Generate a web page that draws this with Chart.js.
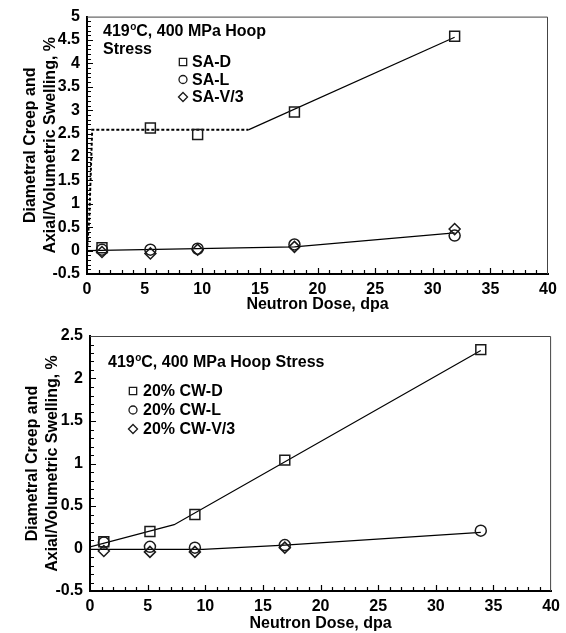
<!DOCTYPE html>
<html lang="en">
<head>
<meta charset="UTF-8" />
<title>Diametral creep and swelling vs neutron dose</title>
<script src="https://cdn.jsdelivr.net/npm/chart.js"></script>
<style>
  body { margin: 0; background: #fff; }
  .panel { position: absolute; left: 0; width: 566px; }
  #top { top: 0; height: 316px; }
  #bottom { top: 316px; height: 317px; }
</style>
</head>
<body>
<div class="panel" id="top"><canvas id="topChart"></canvas></div>
<div class="panel" id="bottom"><canvas id="bottomChart"></canvas></div>
<script>
// ---- top panel: solution annealed (SA) ----
const saDose = [1.3, 5.5, 9.6, 18, 31.9];
const saD = [0.06, 2.62, 2.48, 2.96, 4.58];
const saL = [0.02, 0.02, 0.04, 0.13, 0.32];
const saV3 = [-0.03, -0.06, 0.02, 0.08, 0.46];
// trend lines drawn on the figure
const saDDashX = [0, 0.2, 0.45, 14];
const saDDashY = [0, 0.7, 2.58, 2.58];
const saDFitX = [14, 31.9];
const saDFitY = [2.58, 4.56];
const saLFitX = [0, 18, 31.9];
const saLFitY = [0, 0.08, 0.38];
const saYTicks = [-0.5, 0, 0.5, 1, 1.5, 2, 2.5, 3, 3.5, 4, 4.5, 5];
const saYLabels = ['-0.5', '0', '0.5', '1', '1.5', '2', '2.5', '3', '3.5', '4', '4.5', '5'];

// ---- bottom panel: 20% cold worked (CW) ----
const cwDose = [1.2, 5.2, 9.1, 16.9, 33.9];
const cwD = [0.08, 0.2, 0.4, 1.04, 2.34];
const cwL = [0.07, 0.02, 0.01, 0.04, 0.21];
const cwV3Dose = [1.2, 5.2, 9.1, 16.9];
const cwV3 = [-0.03, -0.04, -0.04, 0.01];
const cwDFitX = [0, 7.3, 33.9];
const cwDFitY = [0.02, 0.28, 2.33];
const cwLFitX = [0, 9.8, 16.9, 33.9];
const cwLFitY = [-0.01, -0.01, 0.04, 0.19];
const cwYTicks = [-0.5, 0, 0.5, 1, 1.5, 2, 2.5];
const cwYLabels = ['-0.5', '0', '0.5', '1', '1.5', '2', '2.5'];

const xTicks = [0, 5, 10, 15, 20, 25, 30, 35, 40];
const xLabels = ['0', '5', '10', '15', '20', '25', '30', '35', '40'];

const FONT = "'Liberation Sans', Arial, sans-serif";

function pts(xs, ys) {
  return xs.map((x, i) => ({ x: x, y: ys[i] }));
}

function markers(label, xs, ys, style, r) {
  return {
    label: label, data: pts(xs, ys), showLine: false,
    pointStyle: style, pointRadius: r, pointHoverRadius: r,
    pointBorderColor: '#1a1a1a', pointBackgroundColor: 'rgba(0,0,0,0)',
    pointBorderWidth: 1.5
  };
}

function fitLine(xs, ys, dash) {
  return {
    data: pts(xs, ys), showLine: true, pointRadius: 0,
    borderColor: '#000', borderWidth: dash ? 2 : 1.2,
    borderDash: dash ? [3, 2] : [], tension: 0
  };
}

// frame, inward ticks, note and legend
const decor = {
  id: 'decor',
  afterDraw(chart, args, o) {
    const ctx = chart.ctx;
    const a = chart.chartArea;
    const xs = chart.scales.x, ys = chart.scales.y;
    ctx.save();
    ctx.strokeStyle = '#444';
    ctx.lineWidth = 1;
    ctx.beginPath();
    ctx.moveTo(a.left, a.top + 0.5);
    ctx.lineTo(a.right - 0.5, a.top + 0.5);
    ctx.lineTo(a.right - 0.5, a.bottom);
    ctx.stroke();

    ctx.strokeStyle = '#000';
    ctx.lineWidth = 1.2;
    ctx.beginPath();
    for (let i = 1; i < 40; i++) {
      const px = Math.round(xs.getPixelForValue(i)) + 0.5;
      const len = i % 5 === 0 ? 6 : 4;
      ctx.moveTo(px, a.bottom);
      ctx.lineTo(px, a.bottom - len);
    }
    const n = Math.round((ys.max - ys.min) * 10);
    for (let i = 1; i < n; i++) {
      const py = Math.round(ys.getPixelForValue(ys.min + i / 10)) + 0.5;
      const len = i % 5 === 0 ? 6 : 4;
      ctx.moveTo(a.left, py);
      ctx.lineTo(a.left + len, py);
    }
    ctx.stroke();

    // condition note
    ctx.fillStyle = '#000';
    ctx.textBaseline = 'middle';
    ctx.font = 'bold 16px ' + FONT;
    let x = o.noteX;
    const y = o.noteY;
    ctx.fillText('419', x, y);
    x += ctx.measureText('419').width;
    ctx.font = 'bold 10px ' + FONT;
    ctx.fillText('o', x + 0.5, y - 5);
    x += ctx.measureText('o').width + 0.5;
    ctx.font = 'bold 16px ' + FONT;
    o.note.forEach((line, i) => {
      ctx.fillText(line, i === 0 ? x : o.noteX, y + i * 18);
    });

    // legend
    o.legend.forEach((item, i) => {
      const ly = o.legY + i * o.legStep;
      ctx.fillStyle = 'rgba(0,0,0,0)';
      ctx.strokeStyle = '#1a1a1a';
      ctx.lineWidth = 1.3;
      Chart.helpers.drawPoint(ctx, {
        pointStyle: item.style, radius: item.r, borderWidth: 1.3
      }, o.legX, ly);
      ctx.fillStyle = '#000';
      ctx.fillText(item.text, o.legX + o.legGap, ly + 1);
    });
    ctx.restore();
  }
};

function makeChart(id, cfg) {
  return new Chart(document.getElementById(id), {
    type: 'scatter',
    data: { datasets: cfg.datasets },
    plugins: [decor],
    options: {
      responsive: true,
      maintainAspectRatio: false,
      animation: false,
      layout: { padding: cfg.padding },
      plugins: {
        legend: { display: false },
        tooltip: { enabled: false },
        decor: cfg.decor
      },
      scales: {
        x: {
          type: 'linear', min: 0, max: 40,
          afterBuildTicks: s => { s.ticks = xTicks.map(v => ({ value: v })); },
          afterFit: s => { s.height = cfg.xHeight; },
          grid: { display: false, drawTicks: false },
          border: { display: true, color: '#000', width: 2 },
          ticks: {
            padding: 6, color: '#000',
            font: { family: FONT, size: 16, weight: 'bold' },
            callback: (v, i) => xLabels[i]
          },
          title: {
            display: true, text: 'Neutron Dose, dpa', color: '#000',
            font: { family: FONT, size: 16, weight: 'bold', lineHeight: 1.2 },
            padding: { top: 0, bottom: cfg.xTitlePad }
          }
        },
        y: {
          type: 'linear', min: cfg.yMin, max: cfg.yMax,
          afterBuildTicks: s => { s.ticks = cfg.yTicks.map(v => ({ value: v })); },
          afterFit: s => { s.width = cfg.yWidth; },
          grid: { display: false, drawTicks: false },
          border: { display: true, color: '#000', width: 2 },
          ticks: {
            padding: 7, color: '#000',
            font: { family: FONT, size: 16, weight: 'bold' },
            callback: (v, i) => cfg.yLabels[i]
          },
          title: {
            display: true, color: '#000',
            text: ['Diametral Creep and', 'Axial/Volumetric Swelling, %'],
            font: { family: FONT, size: 16, weight: 'bold', lineHeight: 1.25 },
            padding: { top: cfg.yTitlePad, bottom: 0 }
          }
        }
      }
    }
  });
}

makeChart('topChart', {
  datasets: [
    markers('SA-D', saDose, saD, 'rect', 7),
    markers('SA-L', saDose, saL, 'circle', 5.5),
    markers('SA-V/3', saDose, saV3, 'rectRot', 5.5),
    fitLine(saDDashX, saDDashY, true),
    fitLine(saDFitX, saDFitY, false),
    fitLine(saLFitX, saLFitY, false)
  ],
  padding: { left: 0, right: 18, top: 14, bottom: 0 },
  xHeight: 42, yWidth: 87, xTitlePad: 2, yTitlePad: 21,
  yMin: -0.5, yMax: 5, yTicks: saYTicks, yLabels: saYLabels,
  decor: {
    noteX: 103, noteY: 32, note: ['C, 400 MPa Hoop', 'Stress'],
    legX: 183, legY: 62, legStep: 17.5, legGap: 9,
    legend: [
      { text: 'SA-D', style: 'rect', r: 5.2 },
      { text: 'SA-L', style: 'circle', r: 4 },
      { text: 'SA-V/3', style: 'rectRot', r: 4.5 }
    ]
  }
});

makeChart('bottomChart', {
  datasets: [
    markers('20% CW-D', cwDose, cwD, 'rect', 7),
    markers('20% CW-L', cwDose, cwL, 'circle', 5.5),
    markers('20% CW-V/3', cwV3Dose, cwV3, 'rectRot', 5.5),
    fitLine(cwDFitX, cwDFitY, false),
    fitLine(cwLFitX, cwLFitY, false)
  ],
  padding: { left: 0, right: 13, top: 20, bottom: 0 },
  xHeight: 42, yWidth: 90, xTitlePad: 0, yTitlePad: 23,
  yMin: -0.5, yMax: 2.5, yTicks: cwYTicks, yLabels: cwYLabels,
  decor: {
    noteX: 108, noteY: 47, note: ['C, 400 MPa Hoop Stress'],
    legX: 133, legY: 75, legStep: 19, legGap: 10,
    legend: [
      { text: '20% CW-D', style: 'rect', r: 5.2 },
      { text: '20% CW-L', style: 'circle', r: 4 },
      { text: '20% CW-V/3', style: 'rectRot', r: 4.5 }
    ]
  }
});
</script>
</body>
</html>
